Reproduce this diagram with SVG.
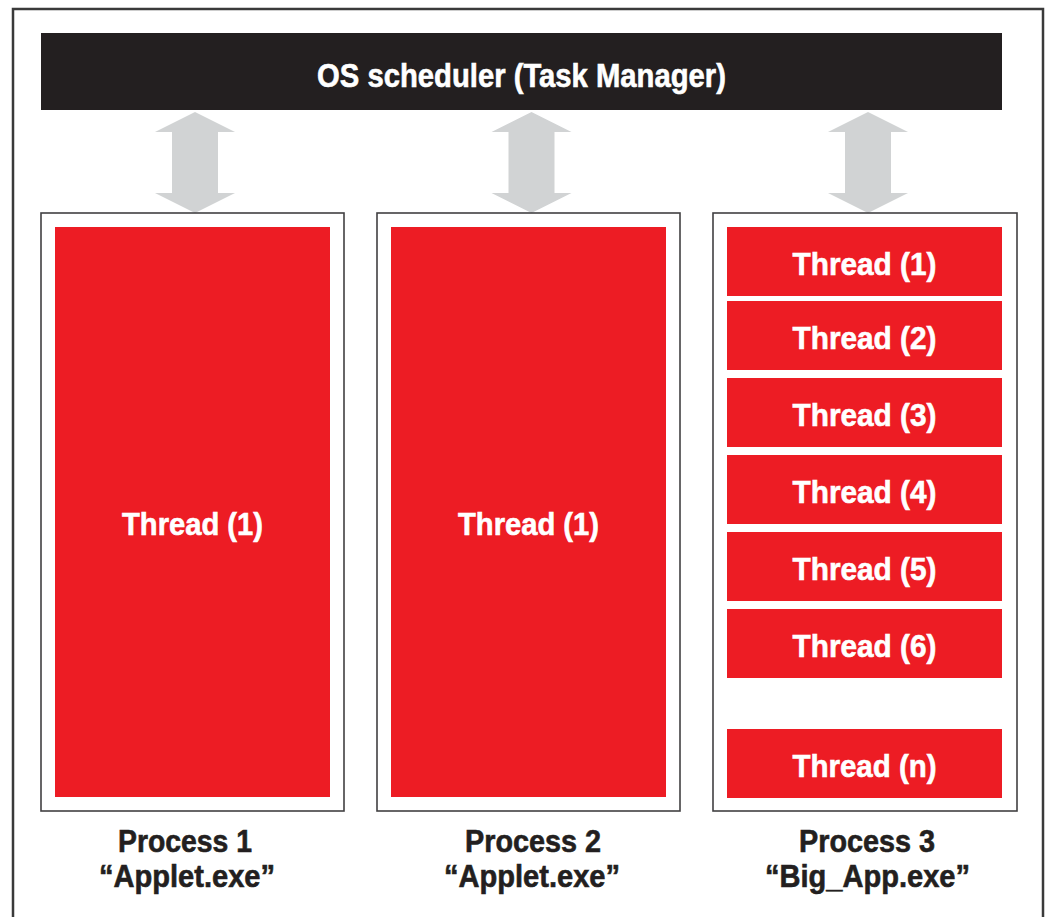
<svg xmlns="http://www.w3.org/2000/svg" width="1047" height="917" viewBox="0 0 1047 917">
<style>
.frame{fill:#fff;stroke:#3a3a3a;stroke-width:2.5}
.box{fill:#fff;stroke:#414042;stroke-width:1.6}
.red{fill:#ed1c24}
.arrow{fill:#d1d3d4}
.t{font-family:"Liberation Sans Narrow","Liberation Sans",Arial,sans-serif;font-weight:bold;text-anchor:middle}
.w{fill:#fff;stroke:#fff;stroke-width:0.6;font-size:32px}
.k{fill:#231f20;stroke:#231f20;stroke-width:0.6;font-size:31px}
</style>
<rect class="frame" x="13" y="9" width="1030" height="930"/>
<g id="scheduler">
<rect x="41" y="33" width="961" height="77" fill="#231f20"/>
<text class="t w" x="521.5" y="87" style="font-size:33px" textLength="409" lengthAdjust="spacingAndGlyphs">OS scheduler (Task Manager)</text>
</g>
<g id="connectors">
<polygon class="arrow" points="195,112 235,132 218,132 218,193 235,193 195,213 155,193 172,193 172,132 155,132"/>
<polygon class="arrow" points="531.5,112 571.5,132 554.5,132 554.5,193 571.5,193 531.5,213 491.5,193 508.5,193 508.5,132 491.5,132"/>
<polygon class="arrow" points="868,112 908,132 891,132 891,193 908,193 868,213 828,193 845,193 845,132 828,132"/>
</g>
<g id="process1">
<rect class="box" x="41" y="213" width="303" height="598"/>
<rect class="red" x="55" y="227" width="275" height="570"/>
<text class="t w" x="192.5" y="535" textLength="141" lengthAdjust="spacingAndGlyphs">Thread (1)</text>
<text class="t k" x="185" y="852" textLength="134" lengthAdjust="spacingAndGlyphs">Process 1</text>
<text class="t k" x="187" y="887" textLength="176" lengthAdjust="spacingAndGlyphs">“Applet.exe”</text>
</g>
<g id="process2">
<rect class="box" x="377" y="213" width="303" height="598"/>
<rect class="red" x="391" y="227" width="275" height="570"/>
<text class="t w" x="528.5" y="535" textLength="141" lengthAdjust="spacingAndGlyphs">Thread (1)</text>
<text class="t k" x="533" y="852" textLength="136" lengthAdjust="spacingAndGlyphs">Process 2</text>
<text class="t k" x="532" y="887" textLength="176" lengthAdjust="spacingAndGlyphs">“Applet.exe”</text>
</g>
<g id="process3">
<rect class="box" x="713" y="213" width="304" height="598"/>
<rect class="red" x="727" y="227" width="275" height="69"/>
<text class="t w" x="864.5" y="275" textLength="144" lengthAdjust="spacingAndGlyphs">Thread (1)</text>
<rect class="red" x="727" y="301" width="275" height="69"/>
<text class="t w" x="864.5" y="349" textLength="144" lengthAdjust="spacingAndGlyphs">Thread (2)</text>
<rect class="red" x="727" y="378" width="275" height="69"/>
<text class="t w" x="864.5" y="426" textLength="144" lengthAdjust="spacingAndGlyphs">Thread (3)</text>
<rect class="red" x="727" y="455" width="275" height="69"/>
<text class="t w" x="864.5" y="503" textLength="144" lengthAdjust="spacingAndGlyphs">Thread (4)</text>
<rect class="red" x="727" y="532" width="275" height="69"/>
<text class="t w" x="864.5" y="580" textLength="144" lengthAdjust="spacingAndGlyphs">Thread (5)</text>
<rect class="red" x="727" y="609" width="275" height="69"/>
<text class="t w" x="864.5" y="657" textLength="144" lengthAdjust="spacingAndGlyphs">Thread (6)</text>
<rect class="red" x="727" y="729" width="275" height="69"/>
<text class="t w" x="864.5" y="777" textLength="144" lengthAdjust="spacingAndGlyphs">Thread (n)</text>
<text class="t k" x="867" y="852" textLength="136" lengthAdjust="spacingAndGlyphs">Process 3</text>
<text class="t k" x="867.5" y="887" textLength="205" lengthAdjust="spacingAndGlyphs">“Big_App.exe”</text>
</g>
</svg>
